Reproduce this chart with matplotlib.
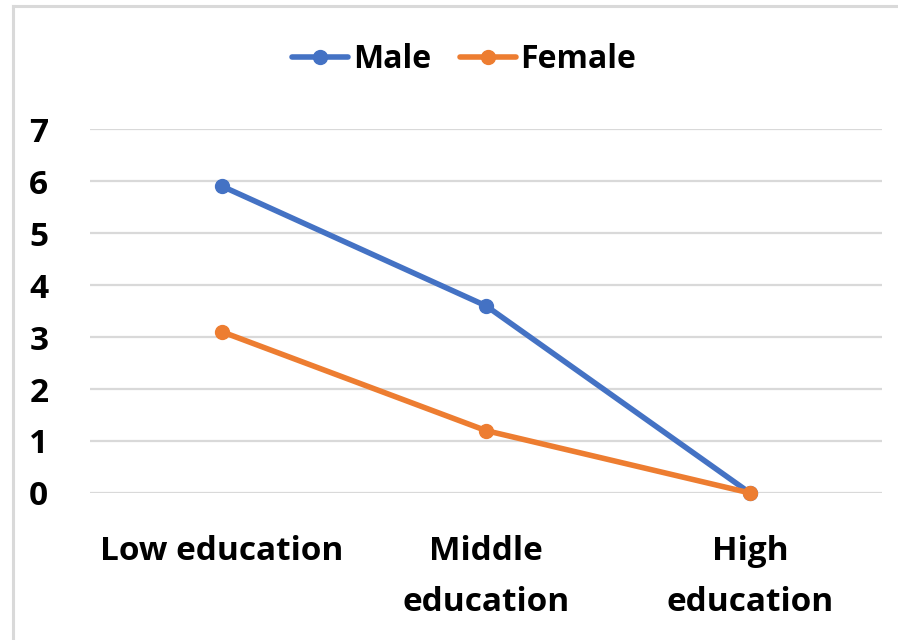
import matplotlib
matplotlib.use("Agg")
import matplotlib.pyplot as plt
from matplotlib.lines import Line2D

categories = ["Low education", "Middle\neducation", "High\neducation"]
male = [5.9, 3.6, 0.0]
female = [3.1, 1.2, 0.0]
y_ticks = [0, 1, 2, 3, 4, 5, 6, 7]

BLUE = "#4472C4"
ORANGE = "#ED7D31"
GRID = "#D9D9D9"

plt.rcParams["font.family"] = ["Open Sans", "DejaVu Sans"]
plt.rcParams["font.weight"] = "bold"

fig = plt.figure(figsize=(8.98, 6.40), dpi=100)
ax = fig.add_axes([0.1002, 0.2297, 0.8820, 0.5687])

x = list(range(len(categories)))
ax.plot(x, male, color=BLUE, lw=4.0, marker="o", ms=10, label="Male",
        clip_on=False, zorder=3, solid_capstyle="round")
ax.plot(x, female, color=ORANGE, lw=4.0, marker="o", ms=10, label="Female",
        clip_on=False, zorder=4, solid_capstyle="round")

ax.set_xlim(-0.5, len(categories) - 0.5)
ax.set_ylim(0, 7)
ax.set_yticks(y_ticks)
ax.set_yticklabels([str(v) for v in y_ticks], fontsize=24, fontweight="bold")
ax.set_xticks(x)
ax.set_xticklabels(categories, fontsize=24, fontweight="bold", linespacing=1.73, va="top")
ax.tick_params(axis="y", length=0, pad=30)
ax.tick_params(axis="x", length=0, pad=30)

ax.grid(axis="y", color=GRID, lw=1.6)
ax.set_axisbelow(True)
for s in ax.spines.values():
    s.set_visible(False)

# light frame around the chart area (left and top edges)
fig.add_artist(Line2D([12.5 / 898, 12.5 / 898], [0, 1 - 6 / 640], transform=fig.transFigure,
                      color=GRID, lw=2.2))
fig.add_artist(Line2D([12.5 / 898, 1], [1 - 6 / 640, 1 - 6 / 640], transform=fig.transFigure,
                      color=GRID, lw=2.2))

leg = fig.legend(handles=ax.get_lines(), loc="center", bbox_to_anchor=(0.517, 0.907),
                 ncol=2, frameon=False, handlelength=1.75,
                 handletextpad=0.15, columnspacing=0.9, prop={"weight": "bold", "size": 23})

fig.savefig("out.png", dpi=100)
